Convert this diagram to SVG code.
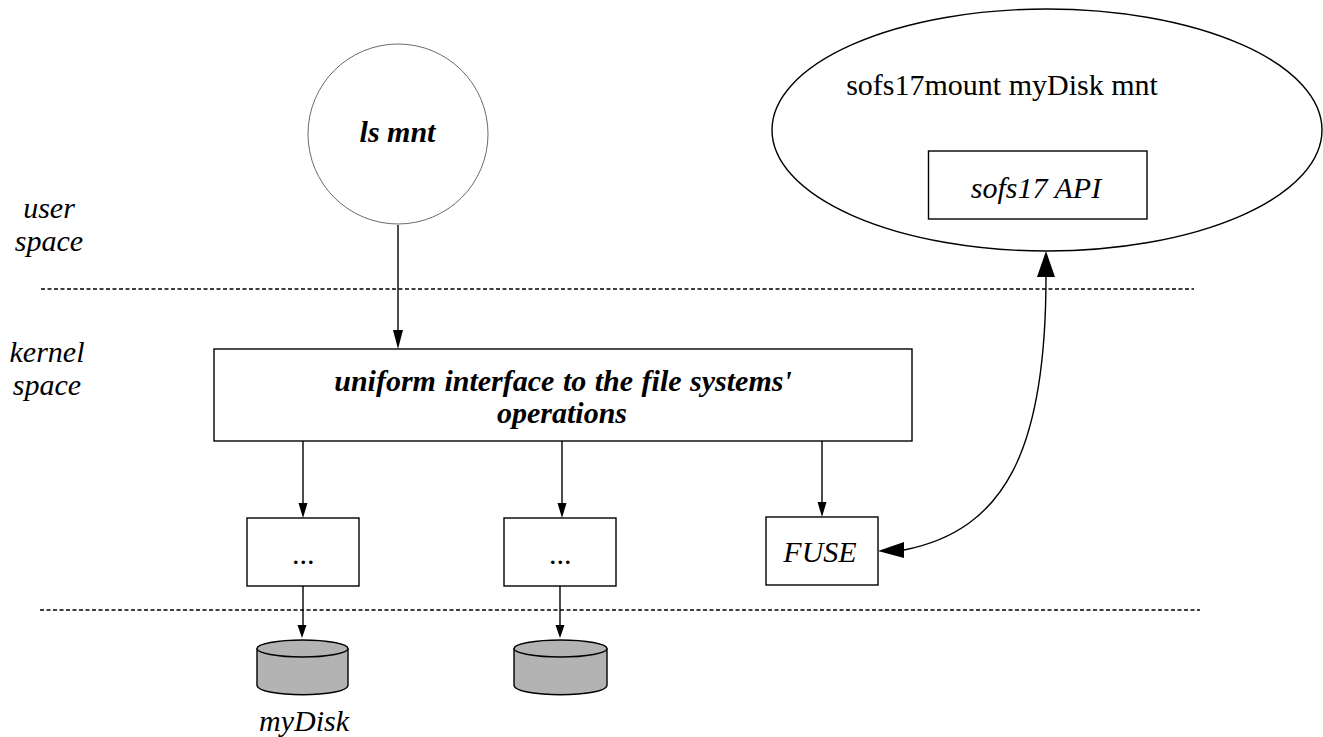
<svg xmlns="http://www.w3.org/2000/svg" width="1323" height="737" viewBox="0 0 1323 737">
<style>
text{font-family:"Liberation Serif","Times New Roman",serif;fill:#000;text-anchor:middle}
.i{font-style:italic;font-size:30px}
.b{font-style:italic;font-weight:bold;font-size:30px}
.box{fill:#fff;stroke:#000;stroke-width:1.4}
.ln{fill:none;stroke:#000;stroke-width:1.4}
.d{fill:none;stroke:#000;stroke-width:1.3;stroke-dasharray:4 2.500}
.c{fill:#b3b3b3;stroke:#000;stroke-width:1.4}
</style>
<rect width="1323" height="737" fill="#fff"/>
<g id="mount"><ellipse cx="1047" cy="130" rx="275" ry="121" class="box"/><text x="1002" y="95" font-size="30">sofs17mount myDisk mnt</text></g>
<g id="api"><rect class="box" x="928.500" y="151" width="218.500" height="68"/><text class="i" x="1036" y="198">sofs17 API</text></g>
<g id="separators"><path class="d" d="M41 289H1194"/><path class="d" d="M40 610H1200"/></g>
<g id="labels">
<text class="i" x="49" y="218">user</text><text class="i" x="49" y="251">space</text>
<text class="i" x="47" y="362">kernel</text><text class="i" x="47" y="395">space</text>
<text class="i" x="304" y="731">myDisk</text>
</g>
<g id="connectors">
<path class="ln" d="M398 225V337"/><path d="M398 349L393 330H403Z"/>
<path class="ln" d="M303 441V508"/><path d="M303 518L298.500 503H307.500Z"/>
<path class="ln" d="M562 441V508"/><path d="M562 518L557.500 503H566.500Z"/>
<path class="ln" d="M822 441V507"/><path d="M822 517L817.500 502H826.500Z"/>
<path class="ln" d="M303 586V628"/><path d="M302 638L297.500 625H306.500Z"/>
<path class="ln" d="M560 586V628"/><path d="M560 638L555.500 625H564.500Z"/>
<path class="ln" d="M904 550C1005 530 1046 450 1046 277"/>
<path d="M1046 251L1055 277H1037Z"/>
<path d="M878 551L904 542V558Z"/>
</g>
<g id="ls"><circle cx="398" cy="134" r="90" fill="#fff" stroke="#444" stroke-width=".8"/><text class="b" x="397.500" y="142">ls mnt</text></g>
<g id="vfs"><rect class="box" x="214" y="349" width="698" height="92"/><text class="b" x="563" y="391" word-spacing="1">uniform interface to the file systems'</text><text class="b" x="562" y="423">operations</text></g>
<g id="fs1"><rect class="box" x="247" y="518" width="112" height="68"/><text class="i" x="304" y="564">...</text></g>
<g id="fs2"><rect class="box" x="504" y="518" width="112" height="68"/><text class="i" x="561" y="564">...</text></g>
<g id="fuse"><rect class="box" x="766" y="517" width="112" height="68"/><text class="i" x="820" y="562">FUSE</text></g>
<g id="disk1"><path class="c" d="M257 649V685C257 698 348 698 348 685V649Z"/><ellipse class="c" cx="302.500" cy="648.500" rx="45.500" ry="8.500"/></g>
<g id="disk2"><path class="c" d="M514 649V685C514 698 607 698 607 685V649Z"/><ellipse class="c" cx="560.500" cy="648.500" rx="46.500" ry="8.500"/></g>
</svg>
